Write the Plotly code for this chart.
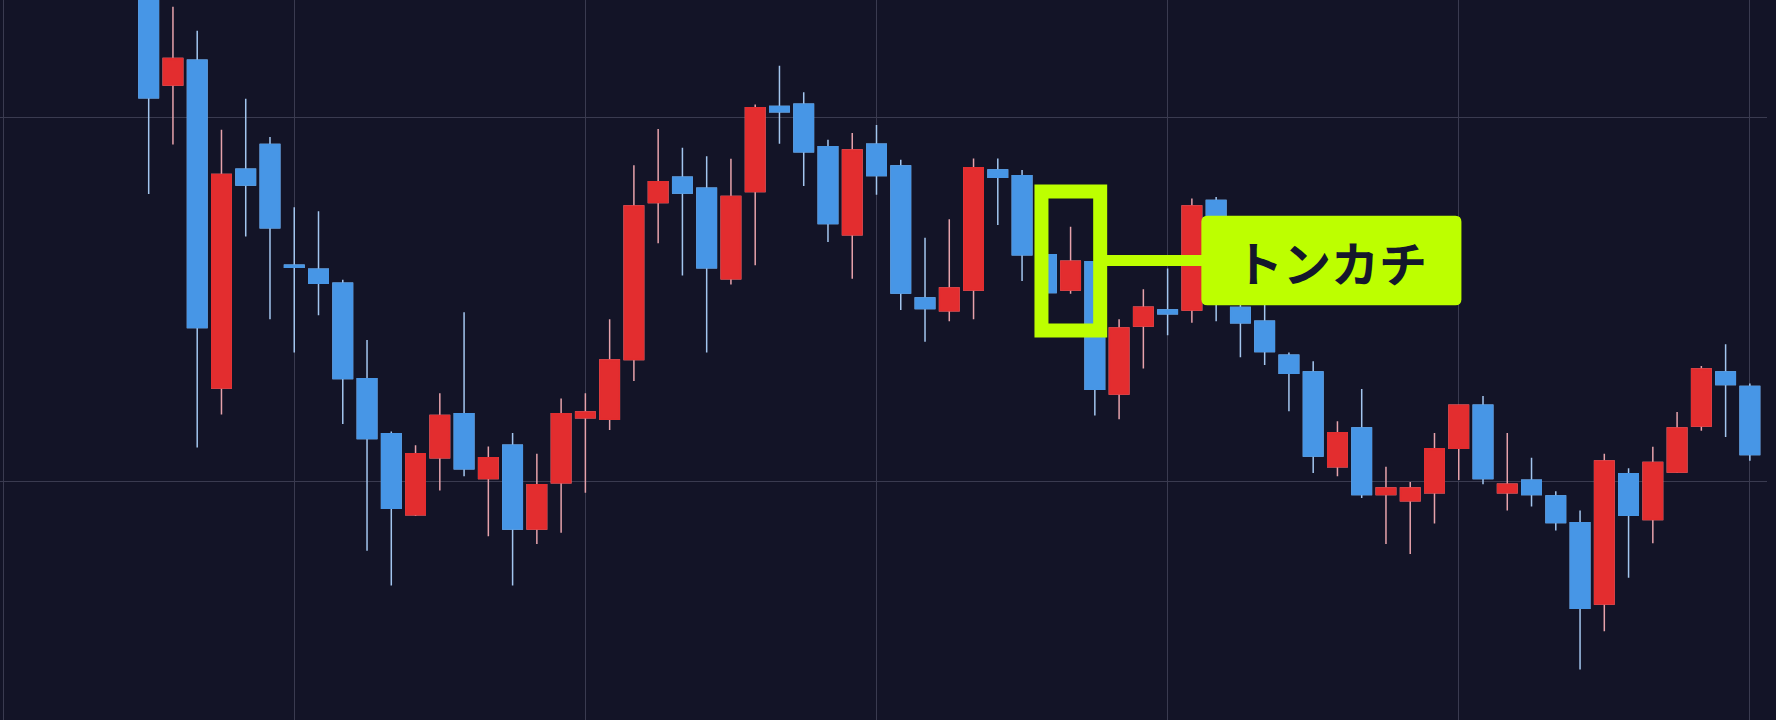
import plotly.graph_objects as go

# ---- data (price units) ----
bar_index = list(range(67))

opens = [151.405, 151.089, 151.157, 150.256, 150.857, 150.925, 150.593, 150.582, 150.544, 150.281,
         150.130, 149.907, 150.064, 150.185, 150.007, 150.098, 149.868, 149.995, 150.174, 150.170,
         150.334, 150.766, 150.835, 150.805, 150.556, 150.796, 151.030, 151.036, 150.919, 150.677,
         150.926, 150.866, 150.503, 150.468, 150.525, 150.855, 150.839, 150.622, 150.525, 150.603,
         150.239, 150.426, 150.470, 150.470, 150.771, 150.477, 150.439, 150.346, 150.300, 150.039,
         150.146, 149.963, 149.946, 149.968, 150.090, 150.208, 149.968, 150.002, 149.959, 149.885,
         149.662, 150.020, 149.894, 150.025, 150.151, 150.300, 150.260]

highs = [151.487, 151.304, 151.238, 150.966, 151.051, 150.946, 150.753, 150.742, 150.553, 150.388,
         150.136, 150.098, 150.241, 150.464, 150.095, 150.132, 150.075, 150.227, 150.241, 150.445,
         150.868, 150.968, 150.916, 150.893, 150.886, 151.035, 151.142, 151.069, 150.938, 150.957,
         150.979, 150.883, 150.669, 150.720, 150.887, 150.887, 150.855, 150.635, 150.699, 150.613,
         150.445, 150.527, 150.584, 150.777, 150.781, 150.525, 150.498, 150.353, 150.329, 150.164,
         150.253, 150.039, 149.997, 150.132, 150.208, 150.234, 150.132, 150.064, 149.972, 149.919,
         150.075, 150.035, 150.094, 150.190, 150.316, 150.376, 150.268]

lows = [150.789, 150.925, 150.092, 150.183, 150.672, 150.445, 150.353, 150.456, 150.157, 149.808,
        149.713, 149.904, 149.974, 150.013, 149.848, 149.713, 149.827, 149.858, 149.968, 150.140,
        150.275, 150.654, 150.565, 150.353, 150.540, 150.593, 150.927, 150.811, 150.657, 150.556,
        150.787, 150.470, 150.383, 150.439, 150.445, 150.704, 150.550, 150.509, 150.515, 150.180,
        150.170, 150.309, 150.401, 150.435, 150.439, 150.340, 150.319, 150.192, 150.022, 150.013,
        149.953, 149.827, 149.799, 149.883, 150.003, 149.991, 149.919, 149.930, 149.864, 149.482,
        149.587, 149.734, 149.829, 150.022, 150.138, 150.121, 150.056]

closes = [151.054, 151.162, 150.422, 150.843, 150.814, 150.696, 150.588, 150.544, 150.282, 150.117,
          149.925, 150.075, 150.180, 150.034, 150.064, 149.868, 149.990, 150.185, 150.190, 150.333,
          150.756, 150.823, 150.792, 150.586, 150.782, 151.026, 151.015, 150.905, 150.708, 150.910,
          150.840, 150.517, 150.474, 150.531, 150.861, 150.835, 150.622, 150.518, 150.604, 150.252,
          150.421, 150.478, 150.460, 150.756, 150.498, 150.435, 150.356, 150.296, 150.069, 150.133,
          149.963, 149.981, 149.981, 150.089, 150.208, 150.007, 149.991, 149.963, 149.886, 149.650,
          150.055, 149.906, 150.051, 150.146, 150.308, 150.265, 150.073]

label_text = "トンカチ"
hammer_idx = 38

# ---- styles ----
BG = "#131427"
GRID = "#3a3b50"
UP = "#e32d2f"
DOWN = "#4796e6"
UP_WICK = "#e6a2ab"
DOWN_WICK = "#a3c6ef"
LIME = "#bdff00"

body_hi = [max(o, c) for o, c in zip(opens, closes)]
body_lo = [min(o, c) for o, c in zip(opens, closes)]

fig = go.Figure()
# wicks
fig.add_trace(go.Candlestick(
    x=bar_index, open=opens, high=highs, low=lows, close=closes,
    increasing=dict(line=dict(color=UP_WICK, width=1.5), fillcolor=UP),
    decreasing=dict(line=dict(color=DOWN_WICK, width=1.5), fillcolor=DOWN),
    hoverinfo="skip", showlegend=False,
))
# bodies
fig.add_trace(go.Candlestick(
    x=bar_index, open=opens, high=body_hi, low=body_lo, close=closes,
    increasing=dict(line=dict(color=UP, width=1.5), fillcolor=UP),
    decreasing=dict(line=dict(color=DOWN, width=1.5), fillcolor=DOWN),
    hoverinfo="skip", showlegend=False,
))

# highlight box around the hammer
box_x0, box_x1 = hammer_idx - 1.2, hammer_idx + 1.22
box_y0, box_y1 = 150.414, 150.796
fig.add_shape(type="rect", x0=box_x0, x1=box_x1, y0=box_y0, y1=box_y1,
              line=dict(color=LIME, width=14), fillcolor="rgba(0,0,0,0)", layer="above")

# label
lx0, lx1, ly0, ly1 = 43.39, 54.11, 150.483, 150.729
rx, ry = 0.25, 0.0165
mid_y = 150.606
fig.add_shape(type="line", x0=box_x1, x1=lx0 + 0.3, y0=mid_y, y1=mid_y,
              line=dict(color=LIME, width=11), layer="above")
path = (f"M {lx0+rx},{ly0} L {lx1-rx},{ly0} Q {lx1},{ly0} {lx1},{ly0+ry} "
        f"L {lx1},{ly1-ry} Q {lx1},{ly1} {lx1-rx},{ly1} L {lx0+rx},{ly1} "
        f"Q {lx0},{ly1} {lx0},{ly1-ry} L {lx0},{ly0+ry} Q {lx0},{ly0} {lx0+rx},{ly0} Z")
fig.add_shape(type="path", path=path, fillcolor=LIME, line=dict(width=0), layer="above")
fig.add_annotation(x=(lx0 + lx1) / 2, y=mid_y, text=label_text, showarrow=False,
                   font=dict(family="Noto Sans CJK JP", size=48, color="#15172b", weight="bold"),
                   xanchor="center", yanchor="middle")

fig.update_layout(
    width=1776, height=720,
    margin=dict(l=0, r=9, t=0, b=0),
    paper_bgcolor=BG, plot_bgcolor=BG,
    showlegend=False,
    boxgap=0.2, boxgroupgap=0,
    xaxis=dict(range=[-6.129, 66.706], tickmode="linear", tick0=6, dtick=12,
               showgrid=True, gridcolor=GRID, gridwidth=1.2, showticklabels=False,
               zeroline=False, showline=False, ticks="", rangeslider=dict(visible=False),
               fixedrange=True),
    yaxis=dict(range=[149.3429, 151.3225], tickmode="linear", tick0=150, dtick=1,
               showgrid=True, gridcolor=GRID, gridwidth=1.2, showticklabels=False,
               zeroline=False, showline=False, ticks="", fixedrange=True),
)

fig.write_html(
    "out.html",
    config={"displayModeBar": False},
    post_script="document.body.style.margin='0';document.body.style.background='#131427';"
                "document.body.style.overflow='hidden';",
)
